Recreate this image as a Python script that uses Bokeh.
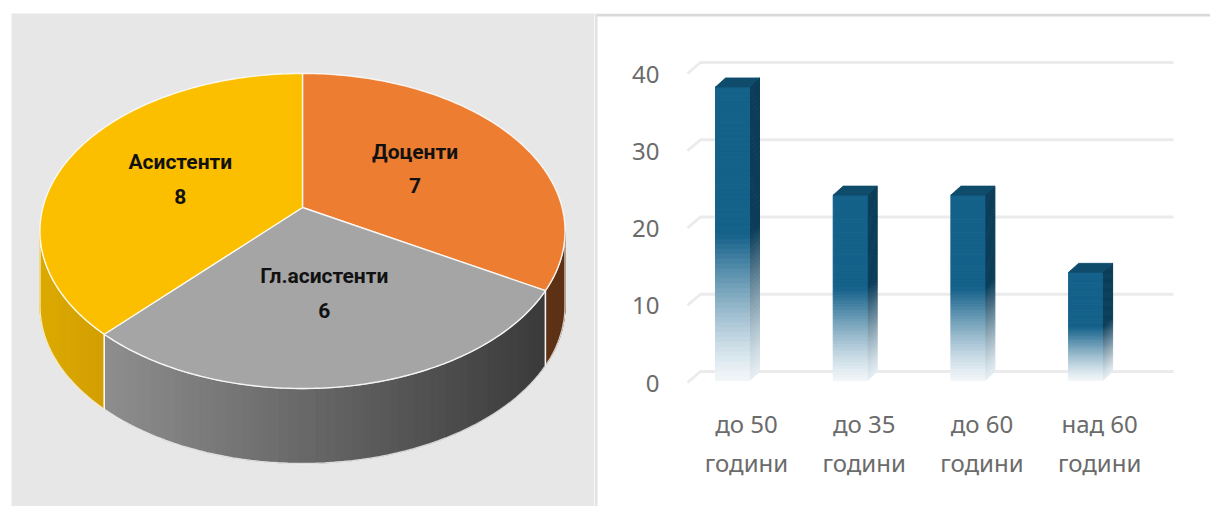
import numpy as np
from bokeh.plotting import figure
from bokeh.layouts import row
from bokeh.models import Range1d, FixedTicker, LinearAxis
from bokeh.core.properties import value
from bokeh.embed import file_html
from bokeh.resources import INLINE

# ---------------- data ----------------
pie_labels = ["Доценти", "Гл.асистенти", "Асистенти"]
pie_values = [7, 6, 8]
pie_top_colors = ["#ed7d31", "#a5a5a5", "#fbbf00"]
pie_side_left = ["#5e3317", "#8e8e8e", "#dcaa00"]
pie_side_right = ["#5e3317", "#3a3a3a", "#d29e00"]

age_groups = ["до 50\nгодини", "до 35\nгодини", "до 60\nгодини", "над 60\nгодини"]
age_values = [38, 24, 24, 14]
y_ticks = [0, 10, 20, 30, 40]


def hex2rgb(h):
    h = h.lstrip("#")
    return np.array([int(h[i:i + 2], 16) for i in (0, 2, 4)], dtype=float)


def mix(c1, c2, t):
    a, b = hex2rgb(c1), hex2rgb(c2)
    c = a + (b - a) * t
    return "#%02x%02x%02x" % tuple(int(round(x)) for x in c)


PAGE_H = 506
TOP = 13

# ---------------- left: 3D pie ----------------
p1 = figure(width=594, height=PAGE_H, x_range=Range1d(11, 594), y_range=Range1d(PAGE_H, TOP),
            x_axis_location=None, y_axis_location=None, output_backend="svg",
            toolbar_location=None, min_border_left=11, min_border_right=0,
            min_border_top=TOP, min_border_bottom=0, background_fill_color="#e7e7e7",
            border_fill_color="white", outline_line_color=None)
p1.grid.visible = False

CX, CY = 302.0, 207.0     # pie vertex (screen)
A, B, K = 259.6, 154.0, 0.149
DEPTH = 75.0


def proj(u, v):
    s = 1 + K * v
    return CX + A * u / s, CY - B * v / s


total = float(sum(pie_values))
starts, ends = [], []
a = 90.0
for v in pie_values:
    starts.append(a)
    a -= 360.0 * v / total
    ends.append(a)

vis_hi = -np.degrees(np.arcsin(K))
vis_lo = -180.0 + np.degrees(np.arcsin(K))

side_xs, side_ys, side_cols = [], [], []
outline_xs, outline_ys = [], []
for i in range(len(pie_values)):
    hi = min(starts[i], vis_hi)
    lo = max(ends[i], vis_lo)
    if hi <= lo:
        continue
    th = np.radians(np.linspace(hi, lo, 60))
    px, py = proj(np.cos(th), np.sin(th))
    xmin, xmax = px.min(), px.max()
    for j in range(len(th) - 1):
        side_xs.append([px[j], px[j + 1], px[j + 1], px[j]])
        side_ys.append([py[j], py[j + 1], py[j + 1] + DEPTH, py[j] + DEPTH])
        t = ((px[j] + px[j + 1]) / 2 - xmin) / max(xmax - xmin, 1)
        side_cols.append(mix(pie_side_left[i], pie_side_right[i], t))
    outline_xs.append(list(px) + list(px[::-1]) + [px[0]])
    outline_ys.append(list(py) + list(py[::-1] + DEPTH) + [py[0]])

p1.patches(xs=side_xs, ys=side_ys, fill_color=side_cols, line_color=side_cols, line_width=1.0)
p1.multi_line(xs=outline_xs, ys=outline_ys, line_color="white", line_alpha=0.75, line_width=1.4)

top_xs, top_ys = [], []
for i in range(len(pie_values)):
    th = np.radians(np.linspace(starts[i], ends[i], 120))
    px, py = proj(np.cos(th), np.sin(th))
    top_xs.append([CX] + list(px))
    top_ys.append([CY] + list(py))
p1.patches(xs=top_xs, ys=top_ys, fill_color=pie_top_colors, line_color="white",
           line_alpha=0.85, line_width=1.4)

lx, ly = [], []
R_LAB = 0.52
for i in range(len(pie_values)):
    mid = np.radians((starts[i] + ends[i]) / 2)
    x, y = proj(R_LAB * np.cos(mid), R_LAB * np.sin(mid))
    lx.append(x)
    ly.append(y)
font_l = value("Roboto")
p1.text(x=lx, y=[y - 17 for y in ly], text=pie_labels, text_font=font_l,
        text_font_style="bold", text_font_size="21px", text_color="#111111",
        text_align="center", text_baseline="middle")
p1.text(x=lx, y=[y + 17 for y in ly], text=[str(v) for v in pie_values], text_font=font_l,
        text_font_style="bold", text_font_size="21px", text_color="#111111",
        text_align="center", text_baseline="middle")

# ---------------- right: 3D bars ----------------
P2_L, P2_R = 594.0, 1210.0
X_PX = 117.7        # px per category
Y_PX = 7.725        # px per unit
BACK_X0 = 742.0     # screen x of first category (back-face centre)
ZERO_Y = 371.0      # screen y of value 0 on the back wall

xr = Range1d((P2_L - BACK_X0) / X_PX, (P2_R - BACK_X0) / X_PX)
yr = Range1d(-(PAGE_H - ZERO_Y) / Y_PX, (ZERO_Y - TOP) / Y_PX)

p2 = figure(width=int(P2_R - P2_L), height=PAGE_H, x_range=xr, y_range=yr,
            x_axis_location=None, y_axis_location=None, output_backend="svg",
            toolbar_location=None, min_border_left=0, min_border_top=TOP,
            min_border_bottom=0, min_border_right=0,
            background_fill_color="white", border_fill_color="white", outline_line_color=None)
p2.grid.visible = False

LAB_OFF = 11.5 / Y_PX
XLAB_OFF = 4.0 / X_PX
p2.extra_y_ranges = {"front": Range1d(yr.start + LAB_OFF, yr.end + LAB_OFF),
                     "px": Range1d(PAGE_H, TOP)}
p2.extra_x_ranges = {"lab": Range1d(xr.start - XLAB_OFF, xr.end - XLAB_OFF),
                     "px": Range1d(P2_L, P2_R)}

# panel border (top and left)
p2.segment(x0=[P2_L, P2_L + 1.5], y0=[TOP + 1.5, TOP], x1=[P2_R, P2_L + 1.5], y1=[TOP + 1.5, PAGE_H],
           line_color=["#d9d9d9", "#e2e2e2"], line_width=3,
           x_range_name="px", y_range_name="px")

yax = LinearAxis(y_range_name="front", ticker=FixedTicker(ticks=y_ticks),
                 fixed_location=(687.0 - BACK_X0) / X_PX)
xax = LinearAxis(x_range_name="lab", ticker=FixedTicker(ticks=list(range(len(age_groups)))),
                 major_label_overrides={i: s for i, s in enumerate(age_groups)},
                 fixed_location=-(390.0 - ZERO_Y) / Y_PX)
for ax in (yax, xax):
    ax.axis_line_color = None
    ax.major_tick_line_color = None
    ax.minor_tick_line_color = None
    ax.major_label_text_font = "Noto Sans"
    ax.major_label_text_font_size = "24px"
    ax.major_label_text_color = "#6b6b6b"
yax.major_label_standoff = 22
xax.major_label_standoff = 10
xax.major_label_text_line_height = 1.2
p2.add_layout(yax, "left")
p2.add_layout(xax, "below")

# back-wall grid lines with perspective stub
g_xs, g_ys = [], []
for t in y_ticks:
    g_xs.append([(687 - BACK_X0) / X_PX, (700 - BACK_X0) / X_PX, (1173 - BACK_X0) / X_PX])
    g_ys.append([t - 11.0 / Y_PX, t, t])
p2.multi_line(xs=g_xs, ys=g_ys, line_color="#ebebeb", line_width=2.8)

DX_FRONT = -10.0 / X_PX
DY_FRONT = -9.0 / Y_PX
HALF = 17.0 / X_PX
FRONT_C = "#14618a"
SIDE_C = "#0b3d59"
TOP_C = "#0f4b6b"
LIGHT_F = "#f1f6f9"
LIGHT_S = "#e4edf2"
N = 60
GRAD = 0.5

fl, fr, fb, ft, fc = [], [], [], [], []
s_xs, s_ys, s_c = [], [], []
t_xs, t_ys = [], []
for i, v in enumerate(age_values):
    bl, br = i - HALF, i + HALF
    for j in range(N):
        f0, f1 = j / N, (j + 1) / N
        fm = (f0 + f1) / 2
        g = min(1.0, fm / GRAD) ** 1.25
        y0, y1 = v * f0, v * f1
        fl.append(bl + DX_FRONT)
        fr.append(br + DX_FRONT)
        fb.append(y0 + DY_FRONT)
        ft.append(y1 + DY_FRONT)
        fc.append(mix(LIGHT_F, FRONT_C, g))
        s_xs.append([br + DX_FRONT, br + DX_FRONT, br, br])
        s_ys.append([y0 + DY_FRONT, y1 + DY_FRONT, y1, y0])
        s_c.append(mix(LIGHT_S, SIDE_C, g))
    t_xs.append([bl + DX_FRONT, br + DX_FRONT, br, bl])
    t_ys.append([v + DY_FRONT, v + DY_FRONT, v, v])

p2.patches(xs=s_xs, ys=s_ys, fill_color=s_c, line_color=s_c, line_width=1.0)
p2.quad(left=fl, right=fr, bottom=fb, top=ft, fill_color=fc, line_color=fc, line_width=1.0)
p2.patches(xs=t_xs, ys=t_ys, fill_color=TOP_C, line_color=TOP_C, line_width=0.8)

layout = row(p1, p2)
open("out.html", "w").write(file_html(layout, INLINE))
